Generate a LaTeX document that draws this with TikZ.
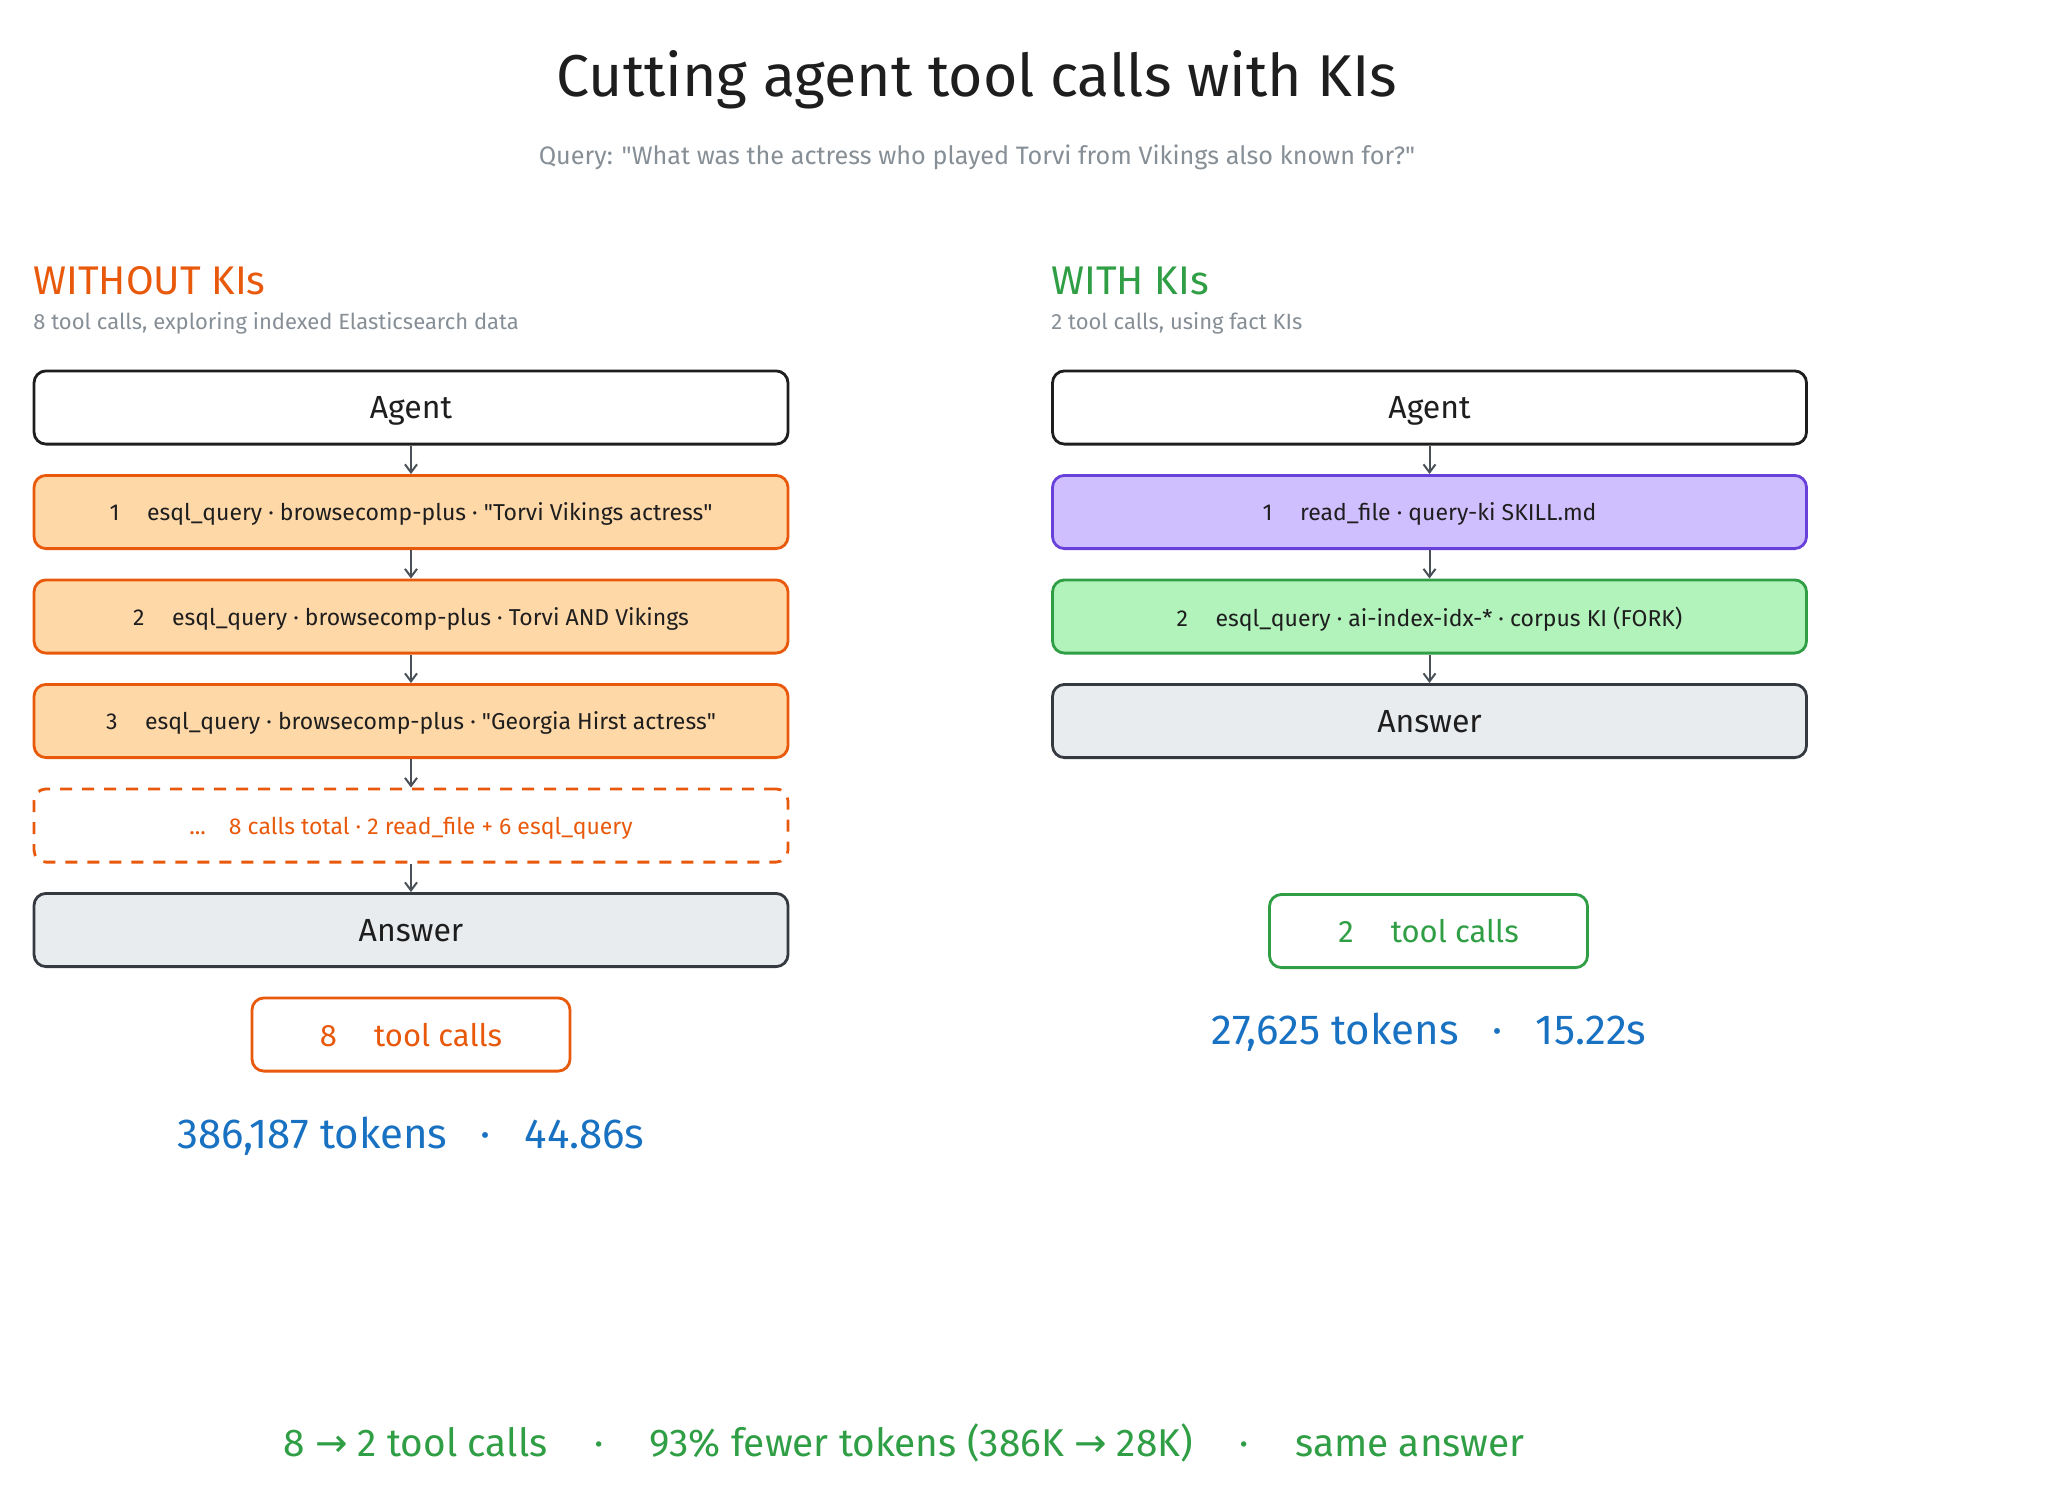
\documentclass[tikz,border=0pt]{standalone}
\usepackage{fontspec}
\setmainfont{Fira Sans}
\newfontfamily\arrowfont{DejaVu Sans}
\usepackage{tikz}
\usetikzlibrary{positioning,arrows.meta}
\definecolor{ink}{HTML}{1E1E1E}
\definecolor{muted}{HTML}{868E96}
\definecolor{orangeline}{HTML}{E8590C}
\definecolor{orangefill}{HTML}{FFD8A8}
\definecolor{violetline}{HTML}{6741D9}
\definecolor{violetfill}{HTML}{D0BFFF}
\definecolor{greenline}{HTML}{2F9E44}
\definecolor{greenfill}{HTML}{B2F2BB}
\definecolor{answerfill}{HTML}{E9ECEF}
\definecolor{answerline}{HTML}{343A40}
\definecolor{arrowgrey}{HTML}{495057}
\definecolor{statblue}{HTML}{1971C2}
\newcommand{\ra}{{\arrowfont →}}
\newcommand{\qq}{\textquotedbl}

\begin{document}
\begin{tikzpicture}[x=0.5pt, y=-0.5pt, node distance=14.25pt, every node/.style={text=ink, inner sep=0pt},
  stepbox/.style={draw, rounded corners=6pt, line width=1.4pt, minimum width=377pt, minimum height=36.6pt, text depth=0pt, font=\fontsize{11.5}{14}\selectfont},
  agentbox/.style={stepbox, draw=ink, fill=white, font=\fontsize{16}{19}\selectfont},
  answerbox/.style={stepbox, draw=answerline, fill=answerfill, font=\fontsize{16}{19}\selectfont},
  orangebox/.style={stepbox, draw=orangeline, fill=orangefill},
  restbox/.style={stepbox, draw=orangeline, dashed, dash pattern=on 6pt off 5pt, text=orangeline},
  countbox/.style={draw, rounded corners=6pt, line width=1.4pt, minimum width=159pt, minimum height=36.6pt, text depth=0pt, font=\fontsize{15.5}{18}\selectfont},
  stat/.style={text=statblue, font=\fontsize{21}{25}\selectfont},
  head/.style={anchor=west, font=\fontsize{20}{24}\selectfont},
  note/.style={anchor=west, text=muted, font=\fontsize{11}{13}\selectfont},
  arr/.style={draw=arrowgrey, line width=1pt, -{Straight Barb[length=4pt,width=6pt]}}]
\useasboundingbox (0,0) rectangle (2048,1501);
% title
\node[font=\fontsize{29.5}{35}\selectfont] (title) at (977,80) {Cutting agent tool calls with KIs};
\node[text=muted, font=\fontsize{12.6}{15}\selectfont] (query) at (977,157) {Query: \qq What was the actress who played Torvi from Vikings also known for?\qq};
% without KIs
\node[head, text=orangeline] (headL) at (33,281) {WITHOUT KIs};
\node[note] (noteL) at (33,323) {8 tool calls, exploring indexed Elasticsearch data};
\node[agentbox] (agentL) at (411,407.5) {Agent};
\node[orangebox, below=of agentL] (s1L) {1\hspace{1.2em}esql\_query · browsecomp-plus · \qq Torvi Vikings actress\qq};
\node[orangebox, below=of s1L] (s2L) {2\hspace{1.2em}esql\_query · browsecomp-plus · Torvi AND Vikings};
\node[orangebox, below=of s2L] (s3L) {3\hspace{1.2em}esql\_query · browsecomp-plus · \qq Georgia Hirst actress\qq};
\node[restbox, below=of s3L] (restL) {...\hspace{1em}8 calls total · 2 read\_file + 6 esql\_query};
\node[answerbox, below=of restL] (answerL) {Answer};
\node[countbox, draw=orangeline, text=orangeline, below=of answerL] (countL) {8\hspace{1.2em}tool calls};
\node[stat] (statL) at (411,1136) {386,187 tokens\hspace{0.8em}·\hspace{0.8em}44.86s};
\draw[arr] (agentL) -- (s1L); \draw[arr] (s1L) -- (s2L); \draw[arr] (s2L) -- (s3L); \draw[arr] (s3L) -- (restL); \draw[arr] (restL) -- (answerL);
% with KIs
\node[head, text=greenline] (headR) at (1051,281) {WITH KIs};
\node[note] (noteR) at (1051,323) {2 tool calls, using fact KIs};
\node[agentbox] (agentR) at (1429.5,407.5) {Agent};
\node[stepbox, draw=violetline, fill=violetfill, below=of agentR] (s1R) {1\hspace{1.2em}read\_file · query-ki SKILL.md};
\node[stepbox, draw=greenline, fill=greenfill, below=of s1R] (s2R) {2\hspace{1.2em}esql\_query · ai-index-idx-* · corpus KI (FORK)};
\node[answerbox, below=of s2R] (answerR) {Answer};
\node[countbox, draw=greenline, text=greenline] (countR) at (1428.5,931) {2\hspace{1.2em}tool calls};
\node[stat] (statR) at (1429,1032) {27,625 tokens\hspace{0.8em}·\hspace{0.8em}15.22s};
\draw[arr] (agentR) -- (s1R); \draw[arr] (s1R) -- (s2R); \draw[arr] (s2R) -- (answerR);
% summary
\node[text=greenline, font=\fontsize{19.4}{23}\selectfont] (summary) at (904,1443) {8 \ra{} 2 tool calls\hspace{1.2em}·\hspace{1.2em}93\% fewer tokens (386K \ra{} 28K)\hspace{1.2em}·\hspace{1.2em}same answer};
\end{tikzpicture}
\end{document}
